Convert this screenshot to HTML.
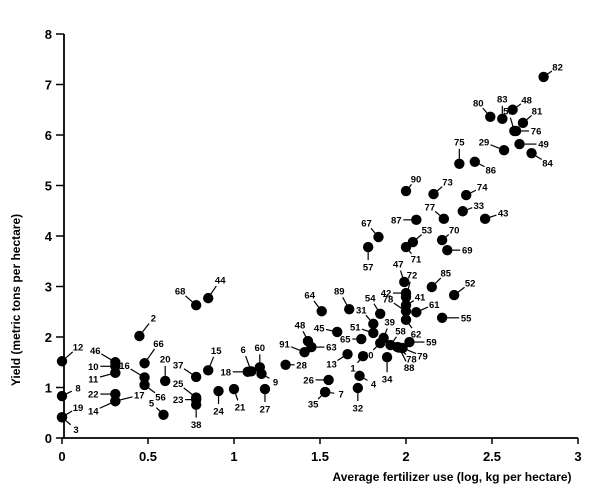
<!DOCTYPE html>
<html><head><meta charset="utf-8"><style>
body{margin:0;background:#fff;}
svg{display:block;font-family:"Liberation Sans",sans-serif;}
</style></head><body>
<svg id="chart" width="605" height="500" viewBox="0 0 605 500">
<g id="axes"></g>
<g id="marks"></g>
<text x="452" y="481" text-anchor="middle" font-size="12" font-weight="bold">Average fertilizer use (log, kg per hectare)</text>
<text transform="translate(20,300) rotate(-90)" text-anchor="middle" font-size="12" font-weight="bold">Yield (metric tons per hectare)</text>
</svg>
<script>
const xTicks=[0,0.5,1,1.5,2,2.5,3];
const yTicks=[0,1,2,3,4,5,6,7,8];
const labels=["12","8","19","3","46","10","11","22","17","14","2","66","16","56","5","20","37","15","25","23","38","24","21","18","6","60","9","27","68","44","28","91","48","63","45","64","89","65","13","1","26","7","35","4","32","31","51","54","39","30","34","58","79","78","88","59","62","78","41","61","42","47","72","85","52","55","57","67","71","53","70","69","82","80","83","48","81","58","76","29","49","84","75","86","90","73","74","33","43","77","87"];
const xVals=[0,0,0,0,0.31,0.31,0.31,0.31,0.31,0.31,0.45,0.48,0.48,0.48,0.59,0.60,0.78,0.85,0.78,0.78,0.78,0.91,1.0,1.08,1.10,1.15,1.16,1.18,0.78,0.85,1.30,1.41,1.43,1.45,1.60,1.51,1.67,1.74,1.66,1.75,1.55,1.53,1.53,1.73,1.72,1.81,1.81,1.85,1.87,1.85,1.89,1.91,1.98,1.95,1.96,2.02,2.0,2.0,2.0,2.06,2.0,1.99,2.0,2.15,2.28,2.21,1.78,1.84,2.0,2.04,2.21,2.24,2.80,2.49,2.56,2.62,2.68,2.63,2.64,2.57,2.66,2.73,2.31,2.40,2.0,2.16,2.35,2.33,2.46,2.22,2.06];
const yVals=[1.52,0.83,0.41,0.41,1.5,1.42,1.29,0.87,0.73,0.73,2.02,1.48,1.2,1.05,0.46,1.13,1.21,1.34,0.8,0.76,0.66,0.93,0.97,1.31,1.32,1.4,1.27,0.97,2.63,2.77,1.45,1.70,1.92,1.80,2.10,2.51,2.55,1.96,1.66,1.62,1.15,0.91,0.91,1.23,0.99,2.26,2.08,2.46,1.98,1.88,1.60,1.84,1.78,1.80,1.79,1.90,2.34,2.51,2.63,2.49,2.87,3.09,2.79,2.99,2.83,2.38,3.78,3.98,3.78,3.88,3.92,3.72,7.15,6.36,6.32,6.50,6.24,6.08,6.08,5.70,5.82,5.64,5.43,5.47,4.89,4.83,4.81,4.49,4.34,4.34,4.32];
// label placement style (px offsets), not data
const labelOffsets=[[16,-14],[16,-8],[16,-10],[14,12],[-20,-12],[-22,0],[-22,6],[-22,0],[24,-6],[-22,10],[14,-18],[14,-20],[-20,-12],[16,12],[-12,-12],[0,-22],[-18,-12],[8,-20],[-18,-14],[-18,0],[0,20],[0,20],[6,18],[-22,0],[-8,-22],[0,-20],[14,8],[0,20],[-16,-14],[12,-18],[16,0],[-20,-8],[-8,-16],[20,0],[-18,-4],[-12,-16],[-10,-18],[-16,0],[-16,10],[-10,12],[-20,0],[16,2],[-12,12],[14,8],[0,20],[-12,-14],[-18,-6],[-10,-16],[6,-16],[-12,12],[0,22],[10,-14],[20,8],[14,12],[10,20],[22,0],[10,14],[-18,-12],[14,-8],[18,-8],[-20,0],[-6,-18],[6,-22],[14,-14],[16,-12],[24,0],[0,20],[-12,-14],[10,12],[14,-12],[12,-10],[20,0],[14,-10],[-12,-14],[0,-20],[14,-10],[14,-12],[-6,-20],[20,0],[-20,-8],[24,0],[16,10],[0,-22],[16,8],[10,-12],[14,-12],[16,-8],[16,-6],[18,-6],[-14,-12],[-20,0]];
const X=v=>62+v*172, Y=v=>438-v*50.5;
const NS="http://www.w3.org/2000/svg";
function mk(tag,attrs,parent){const e=document.createElementNS(NS,tag);for(const k in attrs)e.setAttribute(k,attrs[k]);parent.appendChild(e);return e;}
const ax=document.getElementById('axes'), mg=document.getElementById('marks');
const yl=mk('line',{x1:64,y1:Y(8),x2:64,y2:Y(0),stroke:'#000','stroke-width':1.8},ax);


const xl=mk('line',{x1:62,y1:438,x2:X(3),y2:438,stroke:'#000','stroke-width':1.8},ax);


xTicks.forEach(t=>{
 mk('line',{x1:X(t),y1:438,x2:X(t),y2:444,stroke:'#000','stroke-width':1.5},ax);
 const tx=mk('text',{x:X(t),y:461,'text-anchor':'middle','font-size':13,'font-weight':'bold'},ax);
 tx.textContent=t;
 
 
});
yTicks.forEach(t=>{
 mk('line',{x1:56,y1:Y(t),x2:64,y2:Y(t),stroke:'#000','stroke-width':1.5},ax);
 const tx=mk('text',{x:52,y:Y(t)+5,'text-anchor':'end','font-size':13,'font-weight':'bold'},ax);
 tx.textContent=t;
 
 
});
labels.forEach((lab,i)=>{
 const cx=X(xVals[i]), cy=Y(yVals[i]);
 const o=labelOffsets[i]; const d=Math.hypot(o[0],o[1]);
 const ux=o[0]/d, uy=o[1]/d;
 const ln=mk('line',{x1:cx+ux*5,y1:cy+uy*5,x2:cx+o[0]-ux*7,y2:cy+o[1]-uy*7,stroke:'#000','stroke-width':1.2},mg);
 
 
 const c=mk('circle',{cx:cx,cy:cy,r:5.2,fill:'#000'},mg);
 
 
 const t=mk('text',{x:cx+o[0],y:cy+o[1]+3.5,'text-anchor':'middle','font-size':9.5,'font-weight':'bold'},mg);
 t.textContent=lab;
 
 
});
</script>
</body></html>
